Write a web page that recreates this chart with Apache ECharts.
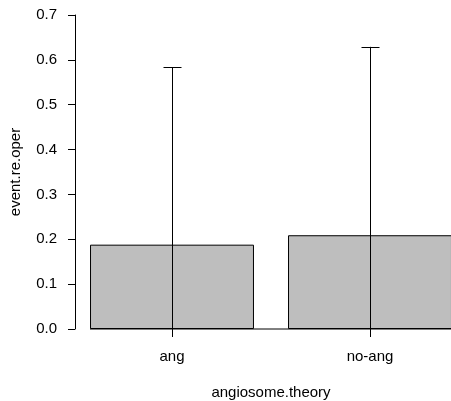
<!DOCTYPE html>
<html>
<head>
<meta charset="utf-8">
<script src="https://cdn.jsdelivr.net/npm/echarts@6/dist/echarts.min.js"></script>
<style>html,body{margin:0;padding:0;background:#fff;}#c{width:451px;height:401px;}</style>
</head>
<body>
<div id="c"></div>
<script>
const categories = ['ang', 'no-ang'];
const means = [0.188, 0.209];
const lowerCI = [0, 0];
const upperCI = [0.584, 0.629];
const yMin = 0, yMax = 0.7, yStep = 0.1;

const FONT = 'Liberation Sans, Arial, sans-serif';
const chart = echarts.init(document.getElementById('c'), null, {renderer: 'canvas'});

const errData = categories.map((c, i) => [i, lowerCI[i], upperCI[i]]);

chart.setOption({
  animation: false,
  backgroundColor: '#fff',
  grid: {left: 73, width: 396, top: 15, bottom: 72, containLabel: false, outerBoundsMode: 'none'},
  xAxis: {
    type: 'category',
    data: categories,
    axisLine: {show: false},
    axisTick: {show: true, alignWithLabel: true, length: 8, lineStyle: {color: '#000'}},
    axisLabel: {margin: 20, fontFamily: FONT, fontSize: 15, color: '#000'},
    name: 'angiosome.theory',
    nameLocation: 'middle',
    nameGap: 56,
    nameTextStyle: {fontFamily: FONT, fontSize: 15, color: '#000'},
    splitLine: {show: false}
  },
  yAxis: {
    type: 'value',
    min: yMin, max: yMax, interval: yStep,
    offset: -2,
    axisLine: {show: true, lineStyle: {color: '#000'}},
    axisTick: {show: true, length: 7, lineStyle: {color: '#000'}},
    axisLabel: {margin: 18, fontFamily: FONT, fontSize: 15, color: '#000', formatter: v => v.toFixed(1)},
    splitLine: {show: false},
    name: 'event.re.oper',
    nameLocation: 'middle',
    nameGap: 52,
    nameTextStyle: {fontFamily: FONT, fontSize: 15, color: '#000'}
  },
  series: [
    {
      type: 'bar',
      data: means,
      barWidth: '82.8%',
      itemStyle: {color: '#bebebe', borderColor: '#000', borderWidth: 1},
      z: 2
    },
    {
      type: 'custom',
      data: [[0, 0]],
      renderItem: function (params, api) {
        const n = categories.length;
        const bw = api.size([1, 0])[0] * 0.828;
        const a = api.coord([0, 0]);
        const b = api.coord([n - 1, 0]);
        return {
          type: 'line',
          shape: {x1: a[0] - bw / 2, y1: a[1], x2: b[0] + bw / 2, y2: b[1]},
          style: {stroke: '#000', lineWidth: 1}
        };
      },
      z: 1,
      silent: true
    },
    {
      type: 'custom',
      data: errData,
      renderItem: function (params, api) {
        const x = api.value(0);
        const lo = api.coord([x, api.value(1)]);
        const hi = api.coord([x, api.value(2)]);
        const cx = Math.round(lo[0]) + 0.5;
        const capHalf = 9;
        return {
          type: 'group',
          children: [
            {type: 'line', shape: {x1: cx, y1: lo[1], x2: cx, y2: hi[1]}, style: {stroke: '#000', lineWidth: 1}},
            {type: 'line', shape: {x1: cx - capHalf, y1: Math.round(hi[1]) + 0.5, x2: cx + capHalf, y2: Math.round(hi[1]) + 0.5}, style: {stroke: '#000', lineWidth: 1}}
          ]
        };
      },
      z: 3,
      silent: true
    }
  ]
});
</script>
</body>
</html>
